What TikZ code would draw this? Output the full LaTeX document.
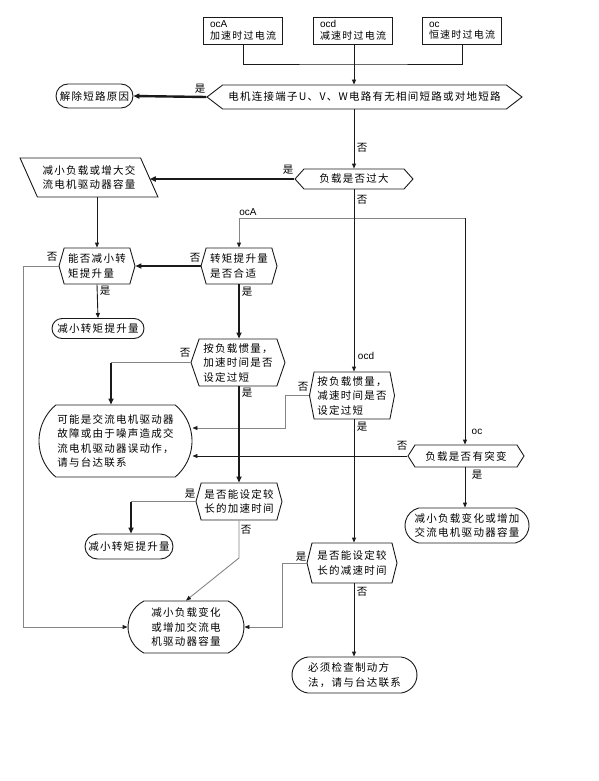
\documentclass[tikz,border=0pt]{standalone}
\usepackage{fontspec}
\setmainfont{Liberation Sans}
\newfontfamily\cjk[LetterSpace=12]{Noto Sans CJK SC}
\usetikzlibrary{arrows.meta, shapes.geometric, shapes.misc, shapes.symbols}
\definecolor{cline}{HTML}{1A1A1A}
\definecolor{cgrey}{HTML}{858585}
\tikzset{
  every picture/.style={line width=0.9pt},
  txt/.style={font=\cjk\fontsize{10.5}{14.5}\selectfont, align=left, inner sep=2pt},
  src/.style={draw=cline, font=\fontsize{10}{11.5}\selectfont, align=left, inner sep=2pt, minimum width=79pt, minimum height=27pt},
  hexa/.style={txt, draw=cline, signal, signal to=west and east, signal pointer angle=#1},
  hexa/.default=150,
  endbox/.style={txt, draw=cline, rounded rectangle, rounded rectangle arc length=#1},
  endbox/.default=180,
  para/.style={txt, draw=cline, trapezium, trapezium left angle=120, trapezium right angle=60, trapezium stretches=true},
  arr/.style={-{Triangle[length=5pt, width=4pt]}, draw=cline},
  line/.style={draw=cline},
  gline/.style={draw=cgrey},
  garr/.style={-{Triangle[length=5pt, width=4pt, color=cline]}, draw=cgrey},
  thk/.style={draw=cline, line width=2.4pt},
  thkarr/.style={thk, -{Triangle[length=6pt, width=5pt]}},
}
\begin{document}
\begin{tikzpicture}[x=1pt, y=-1pt,
  yn/.style={txt, inner sep=0pt},
  tag/.style={font=\fontsize{10}{11}\selectfont, inner sep=0pt}]
  \useasboundingbox (0,0) rectangle (598,781);
  % sources
  \node[src] (sA) at (243,30.5) {ocA\\{\cjk 加速时过电流}};
  \node[src] (sB) at (353,30.5) {ocd\\{\cjk 减速时过电流}};
  \node[src] (sC) at (462,30.5) {oc\\{\cjk 恒速时过电流}};
  \coordinate (jn) at (354,64);
  % checks and actions
  \node[hexa=75, minimum width=315pt, minimum height=24pt] (h1) at (364.5,97) {电机连接端子U、V、W电路有无相间短路或对地短路};
  \node[endbox, minimum width=81pt, minimum height=24pt] (e1) at (94.5,96) {解除短路原因};
  \node[hexa=96, minimum width=118pt, minimum height=20pt] (h2) at (354,179) {负载是否过大};
  \node[para, minimum width=138pt, minimum height=39pt] (p1) at (89,177.5) {减小负载或增大交\\流电机驱动器容量};
  \node[hexa=148, minimum width=76pt, minimum height=36pt] (h3) at (97,266) {能否减小转\\矩提升量};
  \node[hexa=148, minimum width=76pt, minimum height=36pt] (h4) at (239,266) {转矩提升量\\是否合适};
  \node[endbox, minimum width=96pt, minimum height=20pt] (e2) at (98,328.5) {减小转矩提升量};
  \node[hexa=142, minimum width=94pt, minimum height=47pt] (h5) at (238,362.5) {按负载惯量，\\加速时间是否\\设定过短};
  \node[hexa=158, minimum width=85pt, minimum height=47pt] (h7) at (352,395.5) {按负载惯量，\\减速时间是否\\设定过短};
  \node[endbox=100, minimum width=157pt, minimum height=72pt] (e3) at (115.5,441) {可能是交流电机驱动器\\故障或由于噪声造成交\\流电机驱动器误动作，\\请与台达联系};
  \node[hexa=115, minimum width=116pt, minimum height=22pt] (h9) at (466,456) {负载是否有突变};
  \node[endbox=152, minimum width=128pt, minimum height=35pt] (e4) at (467,525.5) {减小负载变化或增加\\交流电机驱动器容量};
  \node[hexa=149, minimum width=86pt, minimum height=37pt] (h6) at (239,501.5) {是否能设定较\\长的加速时间};
  \node[endbox, minimum width=92pt, minimum height=25pt] (e6) at (129,546.5) {减小转矩提升量};
  \node[hexa=152, minimum width=90pt, minimum height=40pt] (h8) at (352,563) {是否能设定较\\长的减速时间};
  \node[endbox=126, minimum width=120pt, minimum height=52pt] (e5) at (186,627) {减小负载变化\\或增加交流电\\机驱动器容量};
  \node[endbox=166, minimum width=129pt, minimum height=36pt] (e7) at (354.5,675) {必须检查制动方\\法，请与台达联系};
  % connectors
  \draw[line] (sA.south) |- (jn) -| (sC.south);
  \draw[arr] (sB.south -| jn) -- (h1.north -| jn);
  \draw[thkarr] (h1.west) -- (e1.east);
  \draw[arr] (h1.south -| h2.north) -- (h2.north);
  \draw[thkarr] (h2.west) -- (h2.west -| p1.east);
  \draw[arr] (h3.north |- p1.south) -- (h3.north);
  \coordinate (cA) at (465,218);
  \draw[garr] (cA) -| (h4.north);
  \draw[arr] (cA) -- (cA |- h9.north);
  \draw[thkarr] (h4.west) -- (h3.east);
  \draw[arr] (h3.south) -- (e2.north);
  \draw[thkarr] (h4.south) -- (h4.south |- h5.north);
  \draw[arr] (h2.south) -- (h2.south |- h7.north);
  \draw[garr] (h3.west) -- ++(-35,0) |- (e5.west);
  \coordinate (c5) at (111,362.5);
  \draw[gline] (h5.west) -- (c5);
  \draw[thkarr] (c5) -- (c5 |- e3.north);
  \draw[garr] (h7.west) -- ++(-24,0) |- ([yshift=13pt]e3.east);
  \draw[thkarr] (h5.south -| h4.south) -- (h4.south |- h6.north);
  \draw[arr] (h7.south -| h2.south) -- (h2.south |- h8.north);
  \draw[arr] (h9.west) -- (h9.west -| e3.east);
  \draw[arr] (cA |- h9.south) -- (cA |- e4.north);
  \coordinate (c6) at (131,501.5);
  \draw[gline] (h6.west) -- (c6);
  \draw[thkarr] (c6) -- (c6 |- e6.north);
  \coordinate (c6b) at (239,558);
  \draw[garr] (h6.south) -- (c6b) -- (e5.north);
  \draw[garr] (h8.west) -- ++(-24,0) |- (e5.east);
  \draw[arr] (h8.south -| h2.south) -- (h2.south |- e7.north);
  % yes / no
  \node[yn] (y1) at (200,89) {是};
  \node[yn] (n1) at (362,148) {否};
  \node[yn] (y2) at (288,170) {是};
  \node[yn] (n2) at (362,200) {否};
  \node[tag] (tA) at (248,212) {ocA};
  \node[yn] (n3) at (52,257) {否};
  \node[yn] (n4) at (195,258) {否};
  \node[yn] (y3) at (105,291) {是};
  \node[yn] (y4) at (247,292) {是};
  \node[yn] (n5) at (185,353) {否};
  \node[tag] (tD) at (366,356) {ocd};
  \node[yn] (n6) at (303,387) {否};
  \node[yn] (y5) at (247,393) {是};
  \node[yn] (y6) at (362,427) {是};
  \node[tag] (tC) at (477,432) {oc};
  \node[yn] (n7) at (402,446) {否};
  \node[yn] (y7) at (477,475) {是};
  \node[yn] (y8) at (190,494) {是};
  \node[yn] (n8) at (246,530) {否};
  \node[yn] (y9) at (301,557) {是};
  \node[yn] (n9) at (362,592) {否};
\end{tikzpicture}
\end{document}
